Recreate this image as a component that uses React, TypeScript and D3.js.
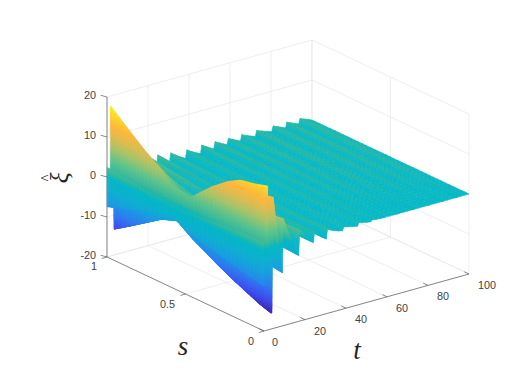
import React from "react";
import * as d3 from "d3";

const sKnots = [0, 0.08, 0.17, 0.25, 0.35, 0.42, 0.49, 0.6, 0.7, 0.8, 0.9, 1];
const upperProfile = [16, 15, 14.3, 12.5, 9.4, 6.8, 4, 4.8, 8, 11, 14.2, 17.5];
const lowerProfile = [-16, -15, -13.4, -12, -10, -8.4, -7, -4, -5.5, -8.2, -10.9, -13.5];
const lateProfile = [0, 0.1, 0.25, 0.4, 0.55, 0.65, 0.72, 0.8, 0.85, 0.9, 0.95, 1];
const tKnots = [
  0, 0.1, 1.5, 1.7, 3.2, 3.4, 3.9, 4.5, 9, 9.4, 16.9, 17.5, 24.1, 24.7, 30.4, 31, 38.3, 38.9, 45.6, 46.2,
  52.1, 52.7, 58.6, 59.2, 65.1, 65.7, 72.4, 73, 80.4, 81, 87.1, 87.7, 93.5, 94.1, 100,
];
const tAmplitude = [
  0.14, -0.55, -0.55, 1, -0.55, -1, -1, 0.8, -0.42, 0.42, -0.25, 0.2, -0.12, 0.115, -0.12, 0.09, -0.06, 0.07, -0.05, 0.08,
  -0.03, 0.075, -0.02, 0.07, -0.02, 0.07, -0.015, 0.07, -0.01, 0.07, -0.01, 0.07, -0.005, 0.07, 0,
];
const mixKnots = [0, 10, 17, 24, 31, 38, 45, 52, 60, 100];
const mixToLate = [0, 0, 0.12, 0.3, 0.3, 0.6, 0.6, 0.75, 1, 1];
const sTicks = [0, 0.5, 1];
const tTicks = [0, 20, 40, 60, 80, 100];
const zTicks = [-20, -10, 0, 10, 20];
const colorLevels = [-16.2, -13, -9.5, -6, -3, 0, 0.8, 1.5, 4, 7, 10, 12.5, 15, 17.7];
const colorValues = ["#3a22a8", "#3f4cf0", "#2d7cf0", "#1a9ee0", "#0fb0d0", "#06b8c6", "#20b8aa", "#38ba9c", "#5ec48c", "#a8c46a", "#e0bc50", "#ffb83c", "#fdd42a", "#f9fb15"];

const W = 528, H = 377;
const tx = d3.scaleLinear().domain([0, 100]).range([0, 205]);
const ty = d3.scaleLinear().domain([0, 100]).range([0, -57]);
const sx = d3.scaleLinear().domain([0, 1]).range([0, -157]);
const sy = d3.scaleLinear().domain([0, 1]).range([0, -74]);
const zy = d3.scaleLinear().domain([-20, 20]).range([0, -160]);
const px = (s: number, t: number) => 264 + sx(s) + tx(t);
const py = (s: number, t: number, z: number) => 331 + sy(s) + ty(t) + zy(z);

const upper = d3.scaleLinear().domain(sKnots).range(upperProfile);
const lower = d3.scaleLinear().domain(sKnots).range(lowerProfile);
const late = d3.scaleLinear().domain(sKnots).range(lateProfile);
const amp = d3.scaleLinear().domain(tKnots).range(tAmplitude);
const mix = d3.scaleLinear().domain(mixKnots).range(mixToLate);
const zAt = (s: number, t: number) => {
  const a = amp(t);
  const w = mix(t);
  const profile = a >= 0 ? upper(s) : -lower(s);
  const edge = a >= 0 ? upperProfile[upperProfile.length - 1] : -lowerProfile[lowerProfile.length - 1];
  return a * (profile * (1 - w) + edge * late(s) * w);
};
const color = d3.scaleLinear<string>().domain(colorLevels).range(colorValues).interpolate(d3.interpolateRgb);

function buildCells() {
  const sGrid = d3.range(0, 41).map((i) => i / 40);
  const tGrid: number[] = [];
  tKnots.slice(0, -1).forEach((t0, i) => {
    const t1 = tKnots[i + 1];
    const dz = Math.abs(tAmplitude[i + 1] - tAmplitude[i]) * 17;
    const n = Math.max(3, Math.ceil(dz / 0.7));
    for (let k = 0; k < n; k++) tGrid.push(t0 + ((t1 - t0) * k) / n);
  });
  tGrid.push(100);
  const cells: { d: string; c: string }[] = [];
  for (let j = tGrid.length - 2; j >= 0; j--) {
    for (let i = sGrid.length - 2; i >= 0; i--) {
      const corners: [number, number][] = [
        [sGrid[i], tGrid[j]], [sGrid[i + 1], tGrid[j]], [sGrid[i + 1], tGrid[j + 1]], [sGrid[i], tGrid[j + 1]],
      ];
      const zs = corners.map(([s, t]) => zAt(s, t));
      const d = "M" + corners.map(([s, t], k) => `${px(s, t).toFixed(1)},${py(s, t, zs[k]).toFixed(1)}`).join("L") + "Z";
      cells.push({ d, c: color(d3.mean(zs) as number) as string });
    }
  }
  return cells;
}
const cells = buildCells();

const GRID = "#e6e6e6";
const AX = "#5a5a5a";
const TXT = "#404040";
const seg = (a: [number, number, number], b: [number, number, number], stroke: string, k: string) => (
  <line key={k} x1={px(a[0], a[1])} y1={py(a[0], a[1], a[2])} x2={px(b[0], b[1])} y2={py(b[0], b[1], b[2])} stroke={stroke} strokeWidth={0.7} />
);

export default function App() {
  return (
    <svg width={W} height={H} style={{ position: "fixed", left: 0, top: 0, background: "#fff" }} fontFamily="'Liberation Sans', Arial, sans-serif">
      <g>
        {zTicks.map((z) => seg([1, 0, z], [1, 100, z], GRID, "za" + z))}
        {zTicks.map((z) => seg([1, 100, z], [0, 100, z], GRID, "zb" + z))}
        {tTicks.map((t) => seg([1, t, -20], [1, t, 20], GRID, "tv" + t))}
        {sTicks.map((s) => seg([s, 100, -20], [s, 100, 20], GRID, "sv" + s))}
        {tTicks.map((t) => seg([0, t, -20], [1, t, -20], GRID, "tf" + t))}
        {sTicks.map((s) => seg([s, 0, -20], [s, 100, -20], GRID, "sf" + s))}
      </g>
      <g>
        {seg([1, 0, -20], [1, 0, 20], AX, "zaxis")}
        {seg([0, 0, -20], [1, 0, -20], AX, "saxis")}
        {seg([0, 0, -20], [0, 100, -20], AX, "taxis")}
        {zTicks.map((z) => seg([1, 0, z], [1.03, -0.8, z], AX, "ztk" + z))}
        {tTicks.map((t) => seg([0, t, -20], [0.03, t, -20], AX, "ttk" + t))}
        {sTicks.map((s) => seg([s, 0, -20], [s, -2.5, -20], AX, "stk" + s))}
      </g>
      <g>
        {cells.map((c, i) => <path key={i} d={c.d} fill={c.c} stroke={c.c} strokeWidth={0.6} />)}
      </g>
      <g fontSize={10.8} fill={TXT}>
        {zTicks.map((z) => (
          <text key={z} x={96} y={py(1, 0, z) + 2} textAnchor="end">{z}</text>
        ))}
        {sTicks.map((s) => (
          <text key={s} x={px(s, 0) - (s === 0.5 ? 18 : 13)} y={py(s, 0, -20) + (s === 1 ? 13 : 14)} textAnchor="middle">{s}</text>
        ))}
        {tTicks.map((t) => (
          <text key={t} x={px(0, t) + (t === 100 ? 18 : t === 0 ? 11 : 15)} y={py(0, t, -20) + 15} textAnchor="middle">{t}</text>
        ))}
      </g>
      <g fontFamily="'Liberation Serif', serif" fontStyle="italic" fill="#262626">
        <text x={183} y={355} fontSize={27} textAnchor="middle">s</text>
        <text x={357} y={359} fontSize={27} textAnchor="middle">t</text>
        <g transform="translate(68,178) rotate(-90)">
          <text x={0} y={0} fontSize={26} textAnchor="middle">{"\u03BE"}</text>
          <text x={0} y={-17} fontSize={15} textAnchor="middle" fontStyle="normal">^</text>
        </g>
      </g>
    </svg>
  );
}
